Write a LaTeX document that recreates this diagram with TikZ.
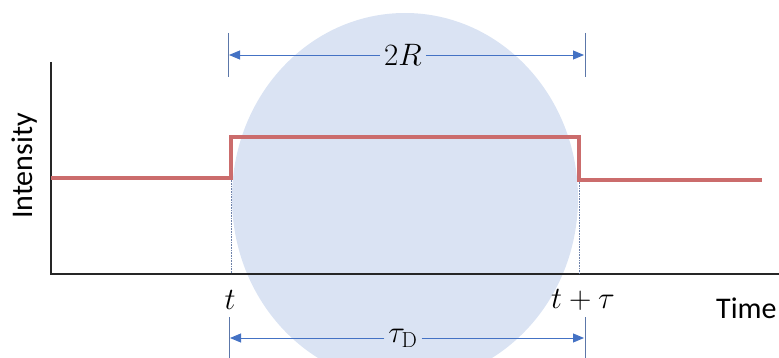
\RequirePackage{fix-cm}
\documentclass[tikz,border=0pt]{standalone}
\usepackage{fontspec}
\newfontfamily\labelfont{Carlito}
\usetikzlibrary{arrows.meta}

\definecolor{discblue}{RGB}{218,227,243}
\definecolor{pulsered}{RGB}{203,108,108}
\definecolor{dimblue}{RGB}{68,114,196}
\definecolor{guidegray}{RGB}{110,130,170}

\tikzset{
  pulse/.style={draw=pulsered, line width=3.2pt},
  axisline/.style={draw=black!85, line width=1.3pt},
  dimarrow/.style={draw=dimblue, line width=0.9pt, -{Triangle[length=11pt,width=9pt]}},
  dimtick/.style={draw=dimblue!60!gray, line width=0.9pt},
  guide/.style={draw=guidegray, densely dotted, line width=0.6pt},
  mathlbl/.style={font=\fontsize{31}{36}\selectfont, inner sep=4pt},
  axislbl/.style={font=\labelfont\fontsize{30}{34}\selectfont, inner sep=0pt},
}

\begin{document}
\begin{tikzpicture}[x={(1pt,0)}, y={(0,-1pt)}]
\useasboundingbox (0,0) rectangle (779,358);

% light blue disc behind the pulse
\begin{scope}
\clip (0,0) rectangle (779,358);
\fill[discblue] (405,198) ellipse [x radius=173pt, y radius=185pt];
\end{scope}

% axes
\coordinate (ytop) at (51,62);
\coordinate (origin) at (51,274);
\coordinate (xend) at (779,274);
\draw[axisline] (ytop) -- (origin) -- (xend);

% pulse corners
\coordinate (start) at (51,178);
\coordinate (riseb) at (231,178);
\coordinate (riset) at (231,137);
\coordinate (fallt) at (579,137);
\coordinate (fallb) at (579,180);
\coordinate (stop) at (762,180);
\coordinate (risefoot) at (231,274);
\coordinate (fallfoot) at (579,274);

% dotted guides down to the time axis
\draw[guide] (riseb) -- (risefoot);
\draw[guide] (fallb) -- (fallfoot);

\draw[pulse] (start) -- (riseb) -- (riset) -- (fallt) -- (fallb) -- (stop);

% dimension ticks
\coordinate (topLa) at (228,33);
\coordinate (topLb) at (228,77);
\coordinate (topRa) at (585,33);
\coordinate (topRb) at (585,77);
\coordinate (botLa) at (229,317);
\coordinate (botLb) at (229,358);
\coordinate (botRa) at (585,317);
\coordinate (botRb) at (585,358);
\draw[dimtick] (topLa) -- (topLb);
\draw[dimtick] (topRa) -- (topRb);
\draw[dimtick] (botLa) -- (botLb);
\draw[dimtick] (botRa) -- (botRb);

% labels
\node[mathlbl] (twoR) at (403,55) {$2R$};
\node[mathlbl] (tauD) at (403,338) {$\tau_{\mathrm{D}}$};
\node[mathlbl] (tlbl) at (230,300) {$t$};
\node[mathlbl] (ttaulbl) at (583,300) {$t+\tau$};
\node[axislbl, anchor=west] (timelbl) at (716,308) {Time};
\node[axislbl, rotate=90] (intlbl) at (25,166) {Intensity};

% dimension arrows
\coordinate (topL) at (229,55);
\coordinate (topR) at (584,55);
\coordinate (botL) at (230,338);
\coordinate (botR) at (584,338);
\draw[dimarrow] (twoR) -- (topL);
\draw[dimarrow] (twoR) -- (topR);
\draw[dimarrow] (tauD) -- (botL);
\draw[dimarrow] (tauD) -- (botR);

\end{tikzpicture}
\end{document}
